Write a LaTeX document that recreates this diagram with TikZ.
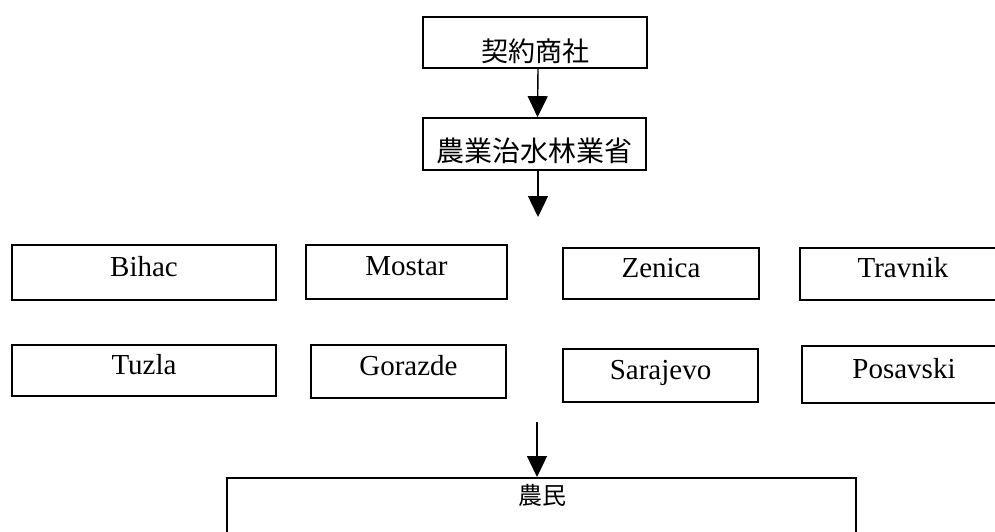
\documentclass[tikz,border=0pt]{standalone}
\usepackage{fontspec}
\setmainfont{Liberation Serif}
\newfontfamily\cjk{Noto Sans CJK JP}
\usetikzlibrary{arrows.meta}
\begin{document}
\begin{tikzpicture}[x=1pt,y=-1pt,
  cell/.style={draw, line width=1.7pt, inner sep=0pt,
    font=\fontsize{29}{29}\selectfont, text height=20pt, text depth=13pt},
  jbox/.style={draw, line width=1.7pt, inner sep=0pt},
  conn/.style={line width=1.4pt, -{Triangle[width=20pt,length=21pt]}}]
\useasboundingbox (0,0) rectangle (995,531);
\clip (0,0) rectangle (995,531);
\fill[white] (0,0) rectangle (995,531);
% top boxes
\node[jbox, font=\cjk\fontsize{27}{27}\selectfont, minimum width=224pt, minimum height=51pt, text height=37pt, text depth=0pt] (firm) at (535,42.5) {契約商社};
\node[jbox, font=\cjk\fontsize{28}{28}\selectfont, minimum width=223pt, minimum height=52pt, text height=35pt, text depth=0pt] (min) at (534.5,144) {農業治水林業省};
% cantons row 1
\node[cell, minimum width=264pt, minimum height=55pt] (bihac) at (144,272.5) {Bihac};
\node[cell, minimum width=201pt, minimum height=54pt] (mostar) at (406.5,272) {Mostar};
\node[cell, minimum width=196pt, minimum height=51pt] (zenica) at (661,273.5) {Zenica};
\node[cell, minimum width=206pt, minimum height=52pt] (travnik) at (903,274) {Travnik};
% cantons row 2
\node[cell, minimum width=264pt, minimum height=51pt] (tuzla) at (144,370.5) {Tuzla};
\node[cell, minimum width=195pt, minimum height=53pt] (gorazde) at (408.5,371.5) {Gorazde};
\node[cell, minimum width=195pt, minimum height=53pt] (sarajevo) at (660.5,375.5) {Sarajevo};
\node[cell, minimum width=204pt, minimum height=57pt] (posavski) at (904,374.5) {Posavski};
% farmers
\node[draw, line width=1.7pt, minimum width=629pt, minimum height=90pt, anchor=north, inner sep=0pt] (farm) at (541.5,477) {};
\node[font=\cjk\fontsize{24}{24}\selectfont, inner sep=0pt] (farmlbl) at (542,495.5) {農民};
% connectors
\coordinate (t2) at (538,217);
\coordinate (s3) at (537,422);
\draw[conn] ([xshift=3pt]firm.south) -- ([xshift=3pt]min.north);
\draw[conn] ([xshift=3.5pt]min.south) -- (t2);
\draw[conn] (s3) -- (s3 |- farm.north);
\end{tikzpicture}
\end{document}
